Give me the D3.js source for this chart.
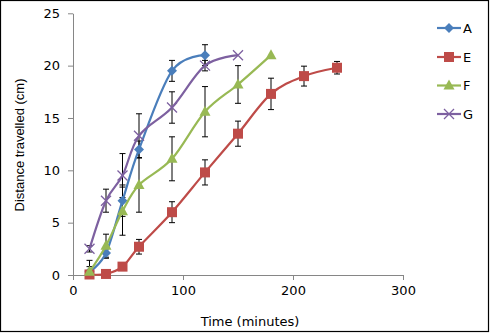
<!DOCTYPE html>
<html><head><meta charset="utf-8">
<script src="https://cdn.jsdelivr.net/npm/d3@7"></script>
<style>body{margin:0;background:#fff}svg{display:block}</style>
</head><body>
<script>
const times = [15,30,45,60,90,120,150,180,210,240];
const seriesNames = ["A","E","F","G"];
const valuesA = [0.3,2.1,7.1,12.0,19.5,21.0];
const errA    = [1.1,0.5,1.5,0.8,1.0,1.0];
const valuesE = [0.05,0.1,0.8,2.7,6.0,9.8,13.5,17.3,19.0,19.8];
const errE    = [0,0,0,0.7,1.0,1.2,1.2,1.5,0.95,0.6];
const valuesF = [0.3,2.8,6.1,8.6,11.1,15.6,18.2,21.0];
const errF    = [0.5,1.1,2.3,2.6,2.1,2.4,1.8,0];
const valuesG = [2.5,7.1,9.5,13.3,16.0,20.0,21.0];
const errG    = [0.3,1.1,2.1,2.1,1.5,0.5,0];
const xTicks = [0,100,200,300];
const yTicks = [0,5,10,15,20,25];
const colors = {A:"#4A7EBB",E:"#BE4B48",F:"#98B954",G:"#7D60A0"};

const series = [
  {name:"A", vals:valuesA, errs:errA, marker:"diamond"},
  {name:"E", vals:valuesE, errs:errE, marker:"square"},
  {name:"F", vals:valuesF, errs:errF, marker:"triangle"},
  {name:"G", vals:valuesG, errs:errG, marker:"cross"}
].map(s => ({...s, pts: s.vals.map((v,i)=>({x:times[i], y:v, e:s.errs[i]}))}));

const W=490,H=333;
const svg=d3.select("body").append("svg").attr("width",W).attr("height",H);
svg.append("rect").attr("x",0.5).attr("y",0.5).attr("width",488).attr("height",331)
  .attr("fill","#fff").attr("stroke","#000").attr("stroke-width",1.2);

const x=d3.scaleLinear().domain([0,300]).range([73,403]);
const y=d3.scaleLinear().domain([0,25]).range([275,13.3]);

const font="DejaVu Sans, Verdana, sans-serif";
const xAxis=svg.append("g").attr("transform","translate(0,275)")
  .call(d3.axisBottom(x).tickValues(xTicks).tickSize(5).tickSizeOuter(0).tickPadding(6));
const yAxis=svg.append("g").attr("transform","translate(73,0)")
  .call(d3.axisLeft(y).tickValues(yTicks).tickSize(5).tickSizeOuter(0).tickPadding(8));
[xAxis,yAxis].forEach(a=>{
  a.select(".domain").attr("stroke","#868686");
  a.selectAll(".tick line").attr("stroke","#868686");
  a.selectAll("text").attr("font-family",font).attr("font-size",13).attr("fill","#000");
});

svg.append("text").attr("x",250).attr("y",326).attr("text-anchor","middle")
  .attr("font-family",font).attr("font-size",13).attr("fill","#000").text("Time (minutes)");
svg.append("text").attr("transform","translate(24,145) rotate(-90)").attr("text-anchor","middle")
  .attr("font-family","Liberation Sans, Arial, sans-serif").attr("font-size",13).attr("fill","#000")
  .text("Distance travelled (cm)");

// error bars (clipped to the plot area at y = 0)
const eb=svg.append("g");
series.forEach(s=>{
  s.pts.filter(p=>p.e>0).forEach(p=>{
    const cx=x(p.x), y1=y(p.y+p.e), low=p.y-p.e, y2=y(Math.max(0,low));
    eb.append("line").attr("x1",cx).attr("x2",cx).attr("y1",y1).attr("y2",y2).attr("stroke","#000").attr("stroke-width",1);
    eb.append("line").attr("x1",cx-3).attr("x2",cx+3).attr("y1",y1).attr("y2",y1).attr("stroke","#000").attr("stroke-width",1);
    if(low>=0) eb.append("line").attr("x1",cx-3).attr("x2",cx+3).attr("y1",y2).attr("y2",y2).attr("stroke","#000").attr("stroke-width",1);
  });
});

const line=d3.line().x(d=>x(d.x)).y(d=>y(d.y)).curve(d3.curveCardinal.tension(0));

function drawMarker(g,type,cx,cy,col){
  if(type==="diamond"){
    g.append("path").attr("d",`M${cx},${cy-5}L${cx+5},${cy}L${cx},${cy+5}L${cx-5},${cy}Z`).attr("fill",col);
  } else if(type==="square"){
    g.append("rect").attr("x",cx-5).attr("y",cy-5).attr("width",10).attr("height",10).attr("fill",col);
  } else if(type==="triangle"){
    g.append("path").attr("d",`M${cx},${cy-6}L${cx+5.5},${cy+4}L${cx-5.5},${cy+4}Z`).attr("fill",col);
  } else {
    g.append("path").attr("d",`M${cx-5},${cy-5}L${cx+5},${cy+5}M${cx-5},${cy+5}L${cx+5},${cy-5}`)
      .attr("stroke",col).attr("stroke-width",1.3).attr("fill","none");
  }
}

series.forEach(s=>{
  const g=svg.append("g");
  g.append("path").datum(s.pts).attr("d",line).attr("fill","none")
    .attr("stroke",colors[s.name]).attr("stroke-width",2.2);
  s.pts.forEach(p=>drawMarker(g,s.marker,x(p.x),y(p.y),colors[s.name]));
});

// legend
const legY=[28,57,85.5,114];
series.forEach((s,i)=>{
  const g=svg.append("g");
  g.append("line").attr("x1",437).attr("x2",461).attr("y1",legY[i]).attr("y2",legY[i])
    .attr("stroke",colors[s.name]).attr("stroke-width",2.2);
  drawMarker(g,s.marker,449,legY[i],colors[s.name]);
  g.append("text").attr("x",463).attr("y",legY[i]).attr("dy","0.36em")
    .attr("font-family",font).attr("font-size",13).attr("fill","#000").text(s.name);
});
</script>
</body></html>
